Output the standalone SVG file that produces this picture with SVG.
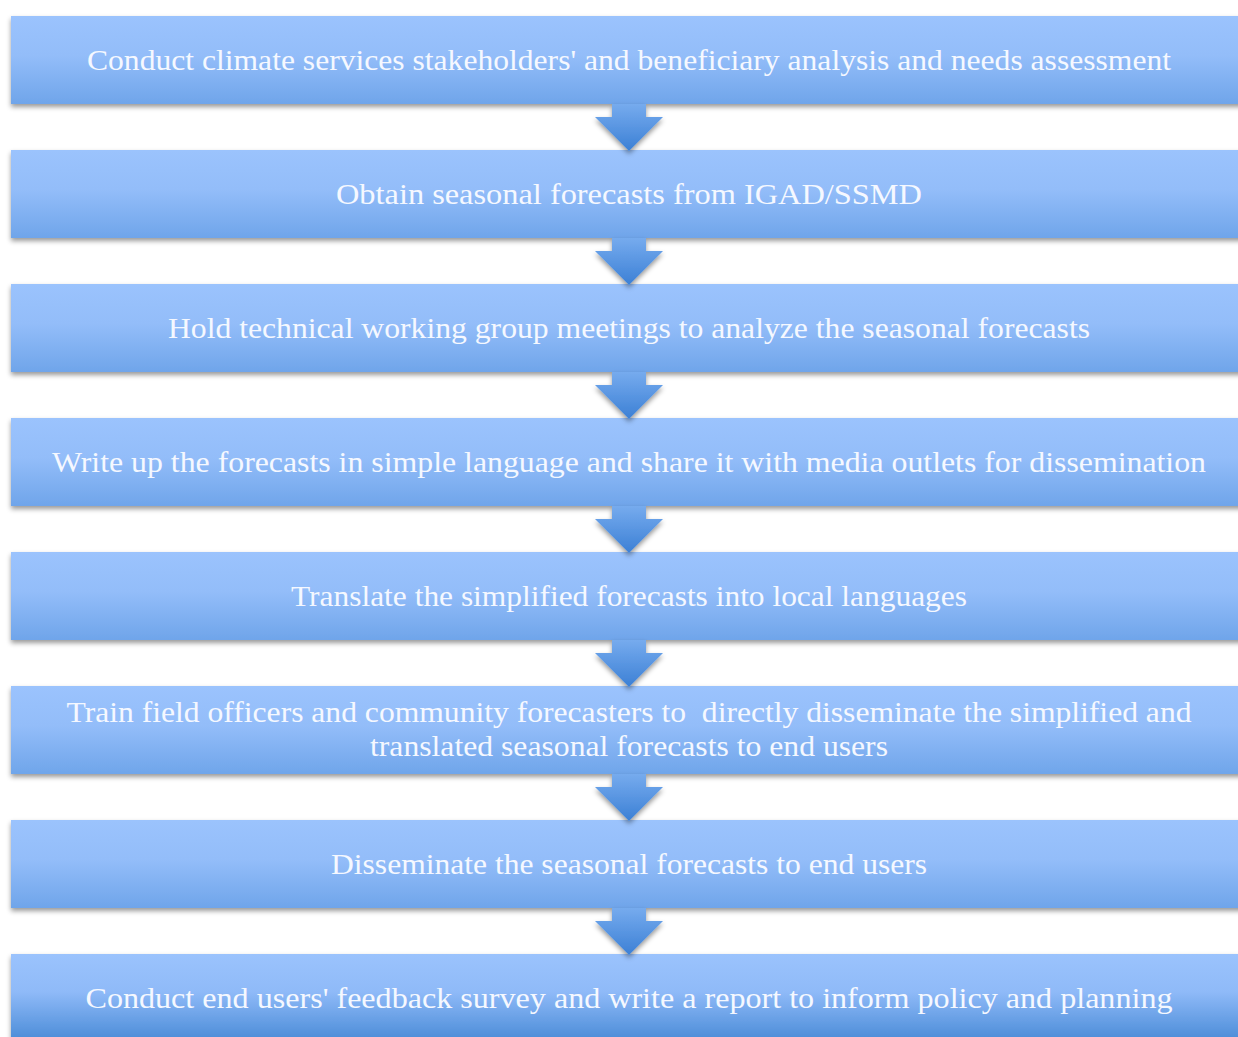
<svg xmlns="http://www.w3.org/2000/svg" width="1238" height="1037" viewBox="0 0 1238 1037">
  <defs>
    <linearGradient id="boxFill" x1="0" y1="0" x2="0" y2="1">
      <stop offset="0" stop-color="#9bc3fd"/>
      <stop offset="0.45" stop-color="#93bdf9"/>
      <stop offset="1" stop-color="#6fa5ea"/>
    </linearGradient>
    <linearGradient id="boxFillLast" x1="0" y1="0" x2="0" y2="1">
      <stop offset="0" stop-color="#9bc3fd"/>
      <stop offset="0.45" stop-color="#8fbaf8"/>
      <stop offset="1" stop-color="#4e8ed9"/>
    </linearGradient>
    <linearGradient id="arrowFill" x1="0" y1="0" x2="0" y2="1">
      <stop offset="0" stop-color="#76abee"/>
      <stop offset="1" stop-color="#3c80d5"/>
    </linearGradient>
    <filter id="shadow" x="-5%" y="-20%" width="110%" height="150%">
      <feDropShadow dx="0" dy="3" stdDeviation="2.5" flood-color="#000" flood-opacity="0.4"/>
    </filter>
    <path id="arrow" d="M612,0 H646 V13 H663 L629,47 L595,13 H612 Z"/>
  </defs>
  <style>
    .box { fill: url(#boxFill); filter: url(#shadow); }
    .label { font-family: "Liberation Serif", "Times New Roman", serif; font-size: 30px; fill: #f5f8ff; text-anchor: middle; }
    .arr { fill: url(#arrowFill); filter: url(#shadow); }
  </style>
  <rect width="1238" height="1037" fill="#ffffff"/>

  <g id="node1">
    <rect class="box" x="11" y="16" width="1240" height="88"/>
    <text class="label" x="629" y="70" textLength="1084" lengthAdjust="spacingAndGlyphs">Conduct climate services stakeholders' and beneficiary analysis and needs assessment</text>
  </g>
  <g id="node2">
    <rect class="box" x="11" y="150" width="1240" height="88"/>
    <text class="label" x="629" y="204" textLength="586" lengthAdjust="spacingAndGlyphs">Obtain seasonal forecasts from IGAD/SSMD</text>
  </g>
  <g id="node3">
    <rect class="box" x="11" y="284" width="1240" height="88"/>
    <text class="label" x="629" y="338" textLength="922" lengthAdjust="spacingAndGlyphs">Hold technical working group meetings to analyze the seasonal forecasts</text>
  </g>
  <g id="node4">
    <rect class="box" x="11" y="418" width="1240" height="88"/>
    <text class="label" x="629" y="472" textLength="1154" lengthAdjust="spacingAndGlyphs">Write up the forecasts in simple language and share it with media outlets for dissemination</text>
  </g>
  <g id="node5">
    <rect class="box" x="11" y="552" width="1240" height="88"/>
    <text class="label" x="629" y="606" textLength="676" lengthAdjust="spacingAndGlyphs">Translate the simplified forecasts into local languages</text>
  </g>
  <g id="node6">
    <rect class="box" x="11" y="686" width="1240" height="88"/>
    <text class="label" x="629" y="722" textLength="1125" lengthAdjust="spacingAndGlyphs" xml:space="preserve">Train field officers and community forecasters to  directly disseminate the simplified and</text>
    <text class="label" x="629" y="756" textLength="518" lengthAdjust="spacingAndGlyphs">translated seasonal forecasts to end users</text>
  </g>
  <g id="node7">
    <rect class="box" x="11" y="820" width="1240" height="88"/>
    <text class="label" x="629" y="874" textLength="596" lengthAdjust="spacingAndGlyphs">Disseminate the seasonal forecasts to end users</text>
  </g>
  <g id="node8">
    <rect class="box" style="fill:url(#boxFillLast)" x="11" y="954" width="1240" height="84"/>
    <text class="label" x="629" y="1008" textLength="1087" lengthAdjust="spacingAndGlyphs">Conduct end users' feedback survey and write a report to inform policy and planning</text>
  </g>

  <g id="connectors">
    <use href="#arrow" class="arr" y="104"/>
    <use href="#arrow" class="arr" y="238"/>
    <use href="#arrow" class="arr" y="372"/>
    <use href="#arrow" class="arr" y="506"/>
    <use href="#arrow" class="arr" y="640"/>
    <use href="#arrow" class="arr" y="774"/>
    <use href="#arrow" class="arr" y="908"/>
  </g>
</svg>
